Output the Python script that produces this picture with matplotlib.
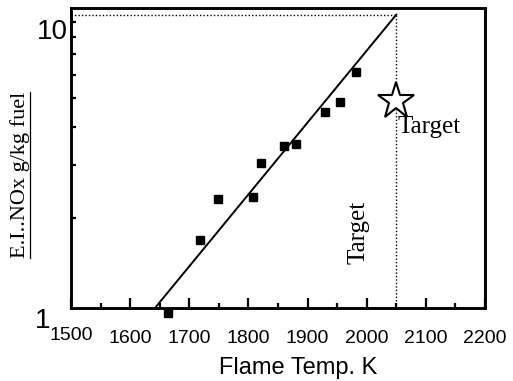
import matplotlib
matplotlib.use("Agg")
import matplotlib.pyplot as plt
from matplotlib.ticker import FixedLocator, NullFormatter, FixedFormatter
from matplotlib.transforms import ScaledTranslation
from matplotlib.lines import Line2D

# Data
temps = [1664, 1718, 1748, 1808, 1822, 1860, 1880, 1929, 1954, 1982]
ei_nox = [0.96, 1.69, 2.30, 2.35, 3.05, 3.46, 3.53, 4.51, 4.86, 6.14]
fit_temps = [1642, 2050]
fit_nox = [1.0, 9.5]
target_temp = 2050
target_nox = 4.9
x_ticks = [1500, 1600, 1700, 1800, 1900, 2000, 2100, 2200]
x_minor = [1550, 1650, 1750, 1850, 1950, 2050, 2150]
y_ticks = [1, 10]
y_tick_labels = ["1", "10"]
y_minor = [2, 3, 4, 5, 6, 7, 8, 9]

SANS = "Liberation Sans"
SERIF = "Liberation Serif"

fig = plt.figure(figsize=(5.13, 3.81), dpi=100)
ax = fig.add_axes([71 / 513, 73 / 381, 414 / 513, 300 / 381])

ax.set_yscale("log")
ax.set_xlim(1500, 2200)
ax.set_ylim(1, 10)

# fit line
ax.plot(fit_temps, fit_nox, color="black", lw=1.4, zorder=3)
# dotted guide lines to target
ax.plot([ax.get_xlim()[0], fit_temps[1]], [fit_nox[1], fit_nox[1]],
        color="black", lw=1.0, ls=(0, (1, 1.5)), zorder=2)
ax.plot([target_temp, target_temp], [ax.get_ylim()[0], fit_nox[1]],
        color="black", lw=1.0, ls=(0, (1, 1.5)), zorder=2)
# data squares
ax.plot(temps, ei_nox, ls="none", marker="s", ms=6.2, color="black",
        clip_on=False, zorder=4)
# target star
ax.plot([target_temp], [target_nox], ls="none", marker="*", ms=28,
        mfc="white", mec="black", mew=1.5, zorder=5)
ax.annotate("Target", xy=(target_temp, target_nox), xytext=(1, -23),
            textcoords="offset points", ha="left", va="baseline",
            fontsize=18, family=SERIF, zorder=6)
ax.text(1986, 1.78, "Target", rotation=90, ha="center", va="center",
        fontsize=18, family=SERIF)

# spines and ticks
for s in ax.spines.values():
    s.set_linewidth(2.1)
ax.xaxis.set_major_locator(FixedLocator(x_ticks))
ax.xaxis.set_minor_locator(FixedLocator(x_minor))
ax.yaxis.set_major_locator(FixedLocator(y_ticks))
ax.yaxis.set_major_formatter(FixedFormatter(y_tick_labels))
ax.yaxis.set_minor_locator(FixedLocator(y_minor))
ax.yaxis.set_minor_formatter(NullFormatter())
ax.tick_params(which="both", direction="in", top=False, right=False, width=1.6)
ax.tick_params(axis="x", which="major", length=7, pad=16, labelsize=14)
ax.tick_params(axis="x", which="minor", length=3.5)
ax.tick_params(axis="y", which="major", length=0, pad=2, labelsize=20)
ax.tick_params(axis="y", which="minor", length=3.5)
for lab in ax.get_xticklabels():
    lab.set_family(SANS)
for lab in ax.get_yticklabels():
    lab.set_family(SANS)

# shift y tick labels like the reference
ylabs = ax.get_yticklabels()
offsets = {"1": (-18, -10), "10": (0, -21)}
for lab in ylabs:
    dx, dy = offsets.get(lab.get_text(), (0, 0))
    lab.set_transform(lab.get_transform() + ScaledTranslation(dx / 100, dy / 100, fig.dpi_scale_trans))
xl = ax.get_xticklabels()
xl[0].set_transform(xl[0].get_transform() + ScaledTranslation(0, 3 / 100, fig.dpi_scale_trans))

ax.set_xlabel("Flame Temp. K", fontsize=17, family=SANS)
ax.xaxis.set_label_coords(0.548, -0.2)
ax.xaxis.label.set_va("center")
ylab = fig.text(20 / 513, 1 - 175 / 381, "E.I..NOx g/kg fuel", rotation=90,
                ha="center", va="center", fontsize=16, family=SERIF)

fig.canvas.draw()
bb = ylab.get_window_extent()
W, H = fig.bbox.width, fig.bbox.height
ux = (bb.x1 + 0.5) / W
fig.add_artist(Line2D([ux, ux], [bb.y0 / H, bb.y1 / H], transform=fig.transFigure,
                      color="black", lw=0.9))

fig.savefig("out.png", dpi=100)
